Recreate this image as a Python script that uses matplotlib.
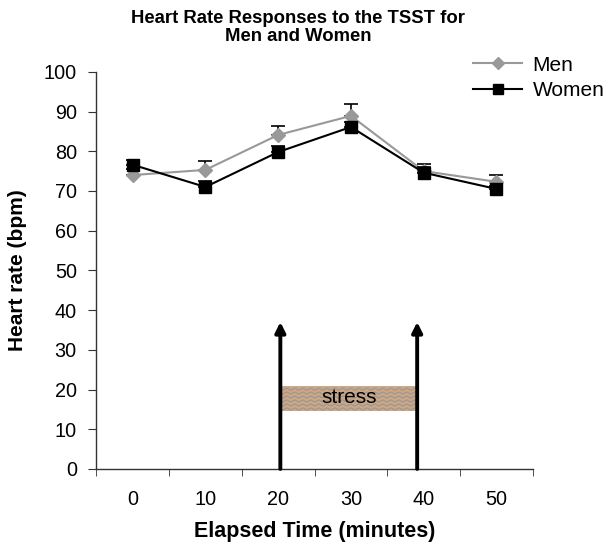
import numpy as np
import matplotlib
matplotlib.use("Agg")
import matplotlib.pyplot as plt
from matplotlib.patches import Rectangle
from matplotlib.lines import Line2D

plt.rcParams['font.family'] = ['Liberation Sans', 'DejaVu Sans']

time_min = [0, 10, 20, 30, 40, 50]
men_hr = [74.0, 75.3, 84.1, 88.9, 75.0, 72.3]
men_se = [1.5, 2.3, 2.3, 3.0, 1.8, 1.6]
women_hr = [76.6, 71.0, 79.8, 86.1, 74.6, 70.5]
women_se = [1.3, 1.4, 1.4, 1.3, 1.5, 0.8]
stress_start, stress_end = 20.3, 39.1
stress_low, stress_high = 14.6, 20.9
arrow_top = 37.0

fig = plt.figure(figsize=(6.09, 5.44), dpi=100)
ax = fig.add_axes([0.158, 0.138, 0.717, 0.73])

men_color = '#999999'
ax.errorbar(time_min, men_hr, yerr=[np.zeros(len(men_se)), men_se], color=men_color,
            lw=1.5, marker='D', ms=7, mfc=men_color, mec=men_color,
            ecolor='black', elinewidth=1.2, capsize=5, capthick=1.2, label='Men', zorder=3)
ax.errorbar(time_min, women_hr, yerr=[np.zeros(len(women_se)), women_se], color='black',
            lw=1.5, marker='s', ms=8, mfc='black', mec='black',
            ecolor='black', elinewidth=1.2, capsize=5, capthick=1.2, label='Women', zorder=4)

# stress box with wavy texture
rect = Rectangle((stress_start, stress_low), stress_end - stress_start, stress_high - stress_low,
                 facecolor='#c9a888', edgecolor='none', zorder=1)
ax.add_patch(rect)
xs = np.linspace(stress_start, stress_end, 400)
for yb in np.arange(stress_low + 0.5, stress_high, 1.0):
    ln, = ax.plot(xs, yb + 0.25 * np.sin(xs * 2 * np.pi / 1.1), color='#9a9090', lw=0.7, zorder=1.5)
    ln.set_clip_path(rect)
ax.text((stress_start + stress_end) / 2, (stress_low + stress_high) / 2 + 0.3, 'stress',
        ha='center', va='center', fontsize=15, zorder=2)

for xa in (stress_start, stress_end):
    ax.annotate('', xy=(xa, arrow_top), xytext=(xa, 0),
                arrowprops=dict(arrowstyle='-|>,head_length=0.6,head_width=0.3', lw=2.8,
                                color='black', shrinkA=0, shrinkB=0), zorder=5)

ax.set_xlim(-5, 55)
ax.set_ylim(0, 100)
ax.set_xticks(time_min)
ax.set_xticks(np.arange(-5, 56, 5), minor=True)
ax.tick_params(axis='x', which='major', length=0, labelsize=14.3, pad=15)
ax.tick_params(axis='x', which='minor', length=5, direction='out', color='#333333')
ax.set_yticks(np.arange(0, 101, 10))
ax.tick_params(axis='y', length=6, labelsize=14.3, color='#333333', pad=8)
for s in ('top', 'right'):
    ax.spines[s].set_visible(False)
for s in ('left', 'bottom'):
    ax.spines[s].set_color('#333333')
    ax.spines[s].set_linewidth(1.0)

ax.set_xlabel('Elapsed Time (minutes)', fontsize=15.5, fontweight='bold')
ax.set_ylabel('Heart rate (bpm)', fontsize=15, fontweight='bold')
ax.xaxis.set_label_coords(0.5, -0.13)
ax.yaxis.set_label_coords(-0.158, 0.5)
fig.text(0.49, 0.982, 'Heart Rate Responses to the TSST for\nMen and Women', ha='center', va='top',
         fontsize=13.3, fontweight='bold', linespacing=1.12)

handles = [Line2D([], [], color=men_color, marker='D', ms=6, lw=1.5),
           Line2D([], [], color='black', marker='s', ms=7, lw=1.5)]
fig.legend(handles, ['Men', 'Women'], loc='upper left', bbox_to_anchor=(0.746, 0.932),
           frameon=False, fontsize=15, handlelength=2.35, labelspacing=0.3, handletextpad=0.5)

fig.savefig('out.png', dpi=100)
